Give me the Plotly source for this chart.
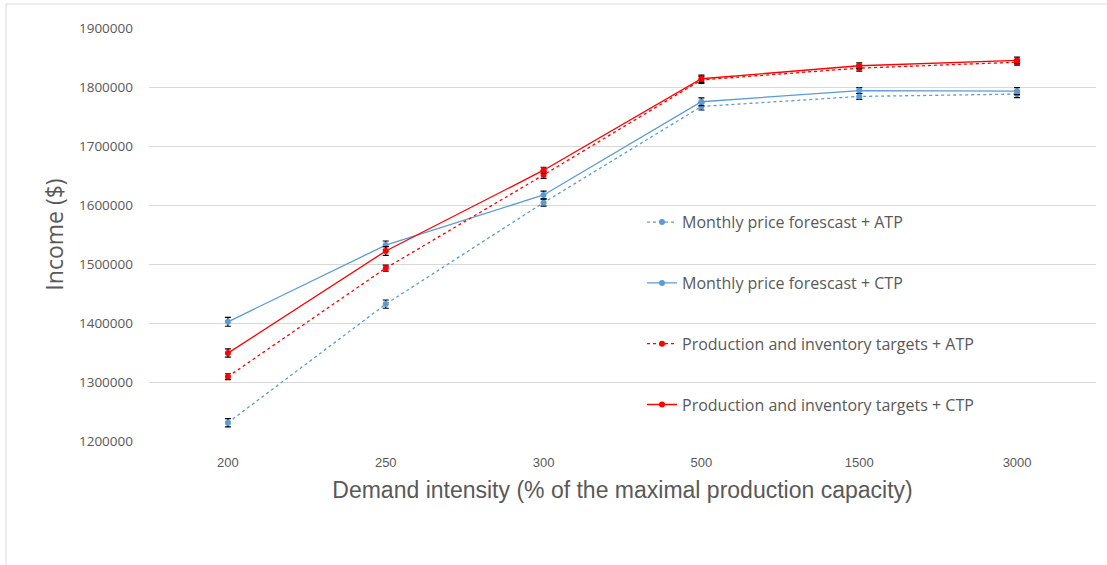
import plotly.graph_objects as go

categories = ["200", "250", "300", "500", "1500", "3000"]

monthly_atp = [1231000, 1432000, 1604000, 1767000, 1784000, 1788000]
monthly_ctp = [1402000, 1532000, 1617000, 1775000, 1794000, 1793000]
prod_atp = [1309000, 1493000, 1651000, 1812000, 1832000, 1842000]
prod_ctp = [1349000, 1522000, 1659000, 1814000, 1836000, 1845000]

err_monthly_atp = [7000, 7000, 6000, 6000, 5000, 6000]
err_monthly_ctp = [7500, 7000, 6500, 6500, 5000, 6000]
err_prod_atp = [5000, 5000, 6000, 6000, 5000, 5000]
err_prod_ctp = [7000, 7500, 5000, 6000, 5000, 5500]

names = [
    "Monthly price forescast + ATP",
    "Monthly price forescast + CTP",
    "Production and inventory targets + ATP",
    "Production and inventory targets + CTP",
]
series = [monthly_atp, monthly_ctp, prod_atp, prod_ctp]
errors = [err_monthly_atp, err_monthly_ctp, err_prod_atp, err_prod_ctp]
colors = ["#5b9bd5", "#5b9bd5", "#ff0000", "#ff0000"]
dashes = ["dash", "solid", "dash", "solid"]

fig = go.Figure()
for i, (nm, ys, es, c, d) in enumerate(zip(names, series, errors, colors, dashes)):
    fig.add_trace(go.Scatter(
        x=categories, y=ys, name=nm, mode="lines+markers",
        line=dict(color=c, width=1.3, dash="3px,3px" if d == "dash" else "solid"),
        marker=dict(color=c, size=6),
        error_y=dict(type="data", array=es, visible=True, color="#000000",
                     thickness=1.2, width=3),
        legendgroup=f"g{i}",
    ))

fig.update_layout(
    width=1107, height=565,
    margin=dict(l=149, r=11, t=28, b=124),
    paper_bgcolor="white", plot_bgcolor="white",
    font=dict(family="Open Sans, sans-serif", color="#595959"),
    showlegend=True,
    legend=dict(
        x=0.5206, y=0.571, xanchor="left", yanchor="top",
        bgcolor="rgba(0,0,0,0)", font=dict(size=16, color="#595959"),
        tracegroupgap=37, traceorder="grouped", itemwidth=30,
    ),
    xaxis=dict(
        type="category", range=[-0.5, 5.5], showgrid=False, showline=False, ticks="",
        tickfont=dict(family="Liberation Sans Narrow, Liberation Sans, sans-serif", size=13, color="#595959"),
        ticklabelstandoff=12,
        title=dict(text="Demand intensity (% of the maximal production capacity)",
                   font=dict(family="Liberation Sans Narrow, Liberation Sans, sans-serif", size=23, color="#595959"),
                   standoff=12),
        zeroline=False,
    ),
    yaxis=dict(
        range=[1200000, 1900000], dtick=100000, showgrid=True, gridcolor="#d9d9d9",
        gridwidth=1, zeroline=False, showline=False, ticks="",
        tickformat="d", tickfont=dict(size=13.5, color="#595959"),
        ticklabelstandoff=15,
        title=dict(text="Income ($)", font=dict(size=23, color="#595959"), standoff=8),
    ),
    shapes=[dict(type="rect", xref="paper", yref="paper",
                 x0=(6 - 149) / 947, x1=1.05, y0=-0.5, y1=1 + 24 / 413,
                 line=dict(color="#d9d9d9", width=1), fillcolor="rgba(0,0,0,0)", layer="below")],
)

fig.write_html("out.html", config={"displayModeBar": False},
               post_script="document.body.style.margin='0';")
